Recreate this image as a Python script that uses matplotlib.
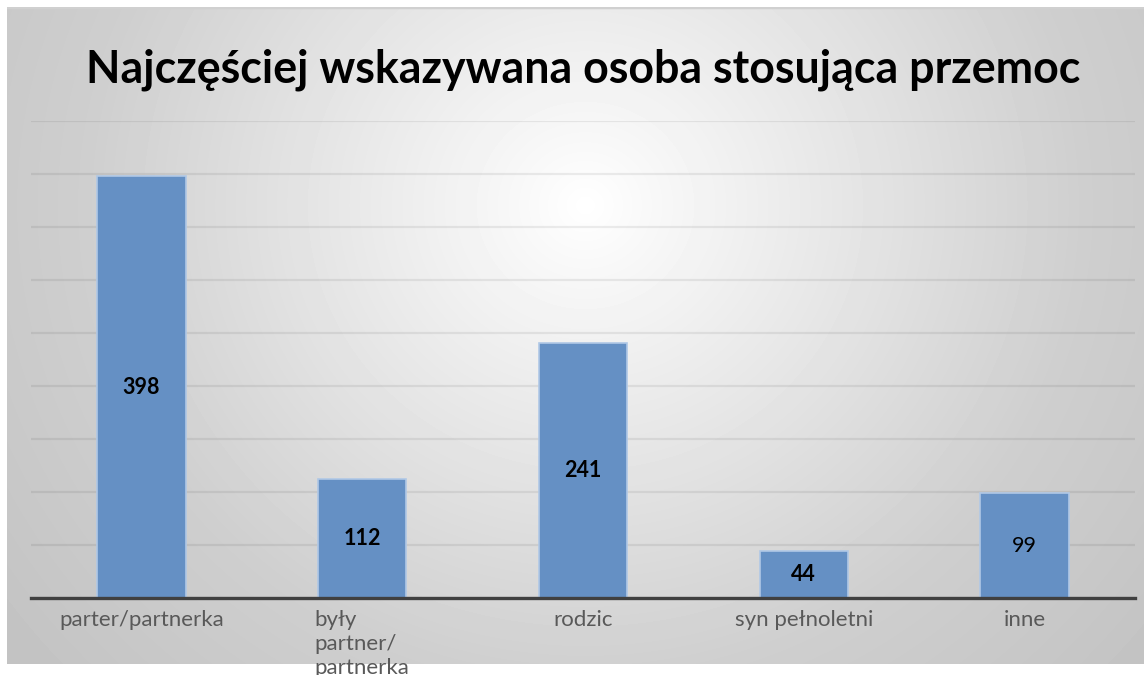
import numpy as np
import matplotlib.pyplot as plt

categories = ['parter/partnerka', 'były\npartner/\npartnerka', 'rodzic', 'syn pełnoletni', 'inne']
values = [398, 112, 241, 44, 99]
label_weights = ['bold', 'bold', 'bold', 'bold', 'normal']
title = 'Najczęściej wskazywana osoba stosująca przemoc'

plt.rcParams['font.family'] = ['Lato', 'DejaVu Sans']

W, H = 1144, 675
fig = plt.figure(figsize=(W / 100, H / 100), dpi=100)
fig.patch.set_facecolor('white')

# chart area with radial grey gradient
bg = fig.add_axes([7 / W, (H - 664) / H, (W - 7) / W, 657 / H])
yy, xx = np.mgrid[7:664, 7:W]
r = np.hypot(xx - 585, (yy - 205) * 1.05)
shade = np.interp(r, [0, 60, 250, 500, 760], [1.0, 0.975, 0.905, 0.81, 0.76])
bg.imshow(shade, cmap='gray', vmin=0, vmax=1, aspect='auto', interpolation='bilinear',
          extent=(0, 1, 0, 1))
bg.axhline(1, color='#d0d0d0', lw=2.5)
bg.set_xlim(0, 1)
bg.set_ylim(0, 1)
bg.set_axis_off()

ax = fig.add_axes([31 / W, (H - 598) / H, (1135 - 31) / W, (598 - 121) / H])
ax.set_facecolor('none')
x = np.arange(len(categories))
bars = ax.bar(x, values, width=0.4, color='#6590c4', edgecolor='#b0c8e6', linewidth=1.2, zorder=3)

for b, v, w in zip(bars, values, label_weights):
    ax.text(b.get_x() + b.get_width() / 2, v / 2, str(v), ha='center', va='center',
            fontsize=15.5, fontweight=w, color='black', zorder=4)

ax.set_xlim(-0.5, len(categories) - 0.5)
ax.set_ylim(0, 450)
ax.set_yticks(np.arange(0, 451, 50))
ax.yaxis.grid(True, color='black', alpha=0.07, linewidth=1.6, zorder=0)
ax.tick_params(axis='y', left=False, labelleft=False)
ax.tick_params(axis='x', bottom=False, pad=5)
ax.set_xticks(x)
ax.set_xticklabels(categories, fontsize=16, color='#595959', va='top', linespacing=1.25)
for lbl in ax.get_xticklabels():
    lbl.set_multialignment('left')
for s in ['top', 'right', 'left']:
    ax.spines[s].set_visible(False)
ax.spines['bottom'].set_color('#404040')
ax.spines['bottom'].set_linewidth(2.4)
ax.spines['bottom'].set_zorder(5)

fig.text(583 / W, 1 - 70 / H, title, ha='center', va='center',
         fontsize=32.2, fontweight='bold', color='black')

fig.savefig('out.png', dpi=100)
